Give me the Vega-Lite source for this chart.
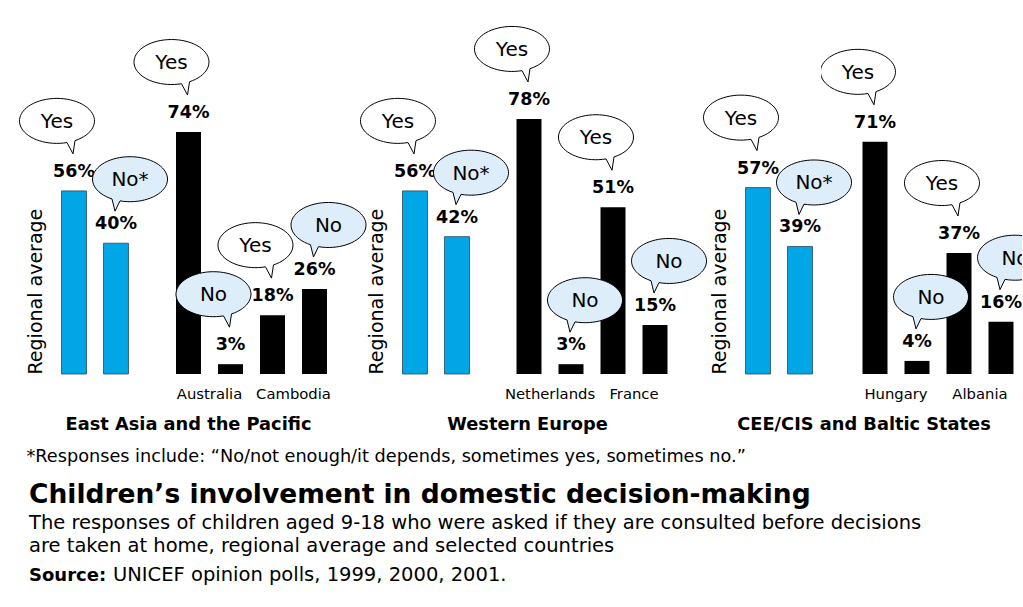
{
  "$schema": "https://vega.github.io/schema/vega-lite/v6.json",
  "background": "white",
  "padding": {"left": 17, "top": 24, "right": 0, "bottom": 5},
  "config": {"view": {"stroke": null}, "font": "DejaVu Sans", "title": {"color": "black"}},
  "datasets": {
    "bars": [
      {"region": "East Asia and the Pacific", "group": "Regional average", "answer": "Yes", "value": 56},
      {"region": "East Asia and the Pacific", "group": "Regional average", "answer": "No*", "value": 40},
      {"region": "East Asia and the Pacific", "group": "Australia", "answer": "Yes", "value": 74},
      {"region": "East Asia and the Pacific", "group": "Australia", "answer": "No", "value": 3},
      {"region": "East Asia and the Pacific", "group": "Cambodia", "answer": "Yes", "value": 18},
      {"region": "East Asia and the Pacific", "group": "Cambodia", "answer": "No", "value": 26},
      {"region": "Western Europe", "group": "Regional average", "answer": "Yes", "value": 56},
      {"region": "Western Europe", "group": "Regional average", "answer": "No*", "value": 42},
      {"region": "Western Europe", "group": "Netherlands", "answer": "Yes", "value": 78},
      {"region": "Western Europe", "group": "Netherlands", "answer": "No", "value": 3},
      {"region": "Western Europe", "group": "France", "answer": "Yes", "value": 51},
      {"region": "Western Europe", "group": "France", "answer": "No", "value": 15},
      {"region": "CEE/CIS and Baltic States", "group": "Regional average", "answer": "Yes", "value": 57},
      {"region": "CEE/CIS and Baltic States", "group": "Regional average", "answer": "No*", "value": 39},
      {"region": "CEE/CIS and Baltic States", "group": "Hungary", "answer": "Yes", "value": 71},
      {"region": "CEE/CIS and Baltic States", "group": "Hungary", "answer": "No", "value": 4},
      {"region": "CEE/CIS and Baltic States", "group": "Albania", "answer": "Yes", "value": 37},
      {"region": "CEE/CIS and Baltic States", "group": "Albania", "answer": "No", "value": 16}
    ]
  },
  "columns": 1,
  "align": "none",
  "spacing": 15,
  "concat": [
    {
      "bounds": "flush",
      "spacing": 0,
      "title": {"text": "*Responses include: “No/not enough/it depends, sometimes yes, sometimes no.”", "orient": "bottom", "anchor": "start", "fontSize": 17.7, "fontWeight": "normal", "font": "DejaVu Sans", "offset": 15, "dx": 9},
      "hconcat": [
        {
          "width": 84, "height": 327,
          "data": {"name": "bars"},
          "transform": [{"filter": "datum.region === 'East Asia and the Pacific' && datum.group === 'Regional average'"}, {"calculate": "datum.value + '%'", "as": "label"}],
          "encoding": {
            "x": {"field": "answer", "type": "nominal", "scale": {"domain": ["Yes", "No*"], "paddingInner": 0.405, "paddingOuter": 0.2025}, "axis": null},
            "y": {"field": "value", "type": "quantitative", "scale": {"domain": [0, 100]}, "axis": {"title": "Regional average", "labels": false, "ticks": false, "domain": false, "grid": false, "titleFontSize": 19, "titleFontWeight": "normal", "titleColor": "black", "titlePadding": 8, "titleAnchor": "start"}}
          },
          "layer": [
            {"mark": {"type": "bar", "color": "#00a6e6", "stroke": "#2a4a5e", "strokeWidth": 0.8}},
            {"mark": {"type": "text", "baseline": "alphabetic", "dy": -14, "fontWeight": "bold", "fontSize": 17.5, "color": "black"}, "encoding": {"text": {"field": "label"}}},
            {"transform": [{"filter": "datum.answer === 'Yes' || datum.group === 'Australia'"}], "mark": {"type": "point", "shape": "M1,-50.26L-1,-37L-7,-48.31A37.5,22.5 0 1 1 1,-50.26Z", "size": 4, "filled": true, "opacity": 1, "stroke": "black", "strokeWidth": 1}, "encoding": {"fill": {"field": "answer", "type": "nominal", "scale": {"domain": ["Yes", "No", "No*"], "range": ["white", "#ddeefa", "#ddeefa"]}, "legend": null}}},
            {"transform": [{"filter": "!(datum.answer === 'Yes' || datum.group === 'Australia')"}], "mark": {"type": "point", "shape": "M4,-42.31L-1,-32L-4,-44.26A37.5,22.5 0 1 1 4,-42.31Z", "size": 4, "filled": true, "opacity": 1, "stroke": "black", "strokeWidth": 1}, "encoding": {"fill": {"field": "answer", "type": "nominal", "scale": {"domain": ["Yes", "No", "No*"], "range": ["white", "#ddeefa", "#ddeefa"]}, "legend": null}}},
            {"transform": [{"filter": "datum.answer === 'Yes' || datum.group === 'Australia'"}], "mark": {"type": "text", "dx": -17, "dy": -69, "baseline": "middle", "fontSize": 20, "color": "black"}, "encoding": {"text": {"field": "answer"}}},
            {"transform": [{"filter": "!(datum.answer === 'Yes' || datum.group === 'Australia')"}], "mark": {"type": "text", "dx": 14, "dy": -63, "baseline": "middle", "fontSize": 20, "color": "black"}, "encoding": {"text": {"field": "answer"}}}
          ]
        },
        {
          "width": 257, "height": 327,
          "data": {"name": "bars"},
          "transform": [{"filter": "datum.region === 'East Asia and the Pacific' && datum.group !== 'Regional average'"}, {"calculate": "datum.value + '%'", "as": "label"}],
          "encoding": {
            "x": {"field": "group", "type": "nominal", "sort": null, "scale": {"paddingInner": 0, "paddingOuter": 0.5298, "align": 0.3427}, "axis": {"title": "East Asia and the Pacific", "titleX": 51, "titleY": 55, "titleBaseline": "alphabetic", "titleAlign": "center", "titleFontSize": 17.8, "titleFontWeight": "bold", "titleColor": "black", "titleFont": "DejaVu Sans", "ticks": false, "domain": false, "labelAngle": 0, "labelFontSize": 14.8, "labelPadding": 24, "labelBaseline": "alphabetic", "labelColor": "black", "labelFont": "DejaVu Sans"}},
            "xOffset": {"field": "answer", "type": "nominal", "scale": {"domain": ["Yes", "No"], "paddingInner": 0.405, "paddingOuter": 0.2025}},
            "y": {"field": "value", "type": "quantitative", "scale": {"domain": [0, 100]}, "axis": null}
          },
          "layer": [
            {"mark": {"type": "bar", "color": "black"}},
            {"mark": {"type": "text", "baseline": "alphabetic", "dy": -14, "fontWeight": "bold", "fontSize": 17.5, "color": "black"}, "encoding": {"text": {"field": "label"}}},
            {"transform": [{"filter": "datum.answer === 'Yes' || datum.group === 'Australia'"}], "mark": {"type": "point", "shape": "M1,-50.26L-1,-37L-7,-48.31A37.5,22.5 0 1 1 1,-50.26Z", "size": 4, "filled": true, "opacity": 1, "stroke": "black", "strokeWidth": 1}, "encoding": {"fill": {"field": "answer", "type": "nominal", "scale": {"domain": ["Yes", "No", "No*"], "range": ["white", "#ddeefa", "#ddeefa"]}, "legend": null}}},
            {"transform": [{"filter": "!(datum.answer === 'Yes' || datum.group === 'Australia')"}], "mark": {"type": "point", "shape": "M4,-42.31L-1,-32L-4,-44.26A37.5,22.5 0 1 1 4,-42.31Z", "size": 4, "filled": true, "opacity": 1, "stroke": "black", "strokeWidth": 1}, "encoding": {"fill": {"field": "answer", "type": "nominal", "scale": {"domain": ["Yes", "No", "No*"], "range": ["white", "#ddeefa", "#ddeefa"]}, "legend": null}}},
            {"transform": [{"filter": "datum.answer === 'Yes' || datum.group === 'Australia'"}], "mark": {"type": "text", "dx": -17, "dy": -69, "baseline": "middle", "fontSize": 20, "color": "black"}, "encoding": {"text": {"field": "answer"}}},
            {"transform": [{"filter": "!(datum.answer === 'Yes' || datum.group === 'Australia')"}], "mark": {"type": "text", "dx": 14, "dy": -63, "baseline": "middle", "fontSize": 20, "color": "black"}, "encoding": {"text": {"field": "answer"}}}
          ]
        },
        {
          "width": 84, "height": 327,
          "data": {"name": "bars"},
          "transform": [{"filter": "datum.region === 'Western Europe' && datum.group === 'Regional average'"}, {"calculate": "datum.value + '%'", "as": "label"}],
          "encoding": {
            "x": {"field": "answer", "type": "nominal", "scale": {"domain": ["Yes", "No*"], "paddingInner": 0.405, "paddingOuter": 0.2025}, "axis": null},
            "y": {"field": "value", "type": "quantitative", "scale": {"domain": [0, 100]}, "axis": {"title": "Regional average", "labels": false, "ticks": false, "domain": false, "grid": false, "titleFontSize": 19, "titleFontWeight": "normal", "titleColor": "black", "titlePadding": 8, "titleAnchor": "start"}}
          },
          "layer": [
            {"mark": {"type": "bar", "color": "#00a6e6", "stroke": "#2a4a5e", "strokeWidth": 0.8}},
            {"mark": {"type": "text", "baseline": "alphabetic", "dy": -14, "fontWeight": "bold", "fontSize": 17.5, "color": "black"}, "encoding": {"text": {"field": "label"}}},
            {"transform": [{"filter": "datum.answer === 'Yes' || datum.group === 'Australia'"}], "mark": {"type": "point", "shape": "M1,-50.26L-1,-37L-7,-48.31A37.5,22.5 0 1 1 1,-50.26Z", "size": 4, "filled": true, "opacity": 1, "stroke": "black", "strokeWidth": 1}, "encoding": {"fill": {"field": "answer", "type": "nominal", "scale": {"domain": ["Yes", "No", "No*"], "range": ["white", "#ddeefa", "#ddeefa"]}, "legend": null}}},
            {"transform": [{"filter": "!(datum.answer === 'Yes' || datum.group === 'Australia')"}], "mark": {"type": "point", "shape": "M4,-42.31L-1,-32L-4,-44.26A37.5,22.5 0 1 1 4,-42.31Z", "size": 4, "filled": true, "opacity": 1, "stroke": "black", "strokeWidth": 1}, "encoding": {"fill": {"field": "answer", "type": "nominal", "scale": {"domain": ["Yes", "No", "No*"], "range": ["white", "#ddeefa", "#ddeefa"]}, "legend": null}}},
            {"transform": [{"filter": "datum.answer === 'Yes' || datum.group === 'Australia'"}], "mark": {"type": "text", "dx": -17, "dy": -69, "baseline": "middle", "fontSize": 20, "color": "black"}, "encoding": {"text": {"field": "answer"}}},
            {"transform": [{"filter": "!(datum.answer === 'Yes' || datum.group === 'Australia')"}], "mark": {"type": "text", "dx": 14, "dy": -63, "baseline": "middle", "fontSize": 20, "color": "black"}, "encoding": {"text": {"field": "answer"}}}
          ]
        },
        {
          "width": 259, "height": 327,
          "data": {"name": "bars"},
          "transform": [{"filter": "datum.region === 'Western Europe' && datum.group !== 'Regional average'"}, {"calculate": "datum.value + '%'", "as": "label"}],
          "encoding": {
            "x": {"field": "group", "type": "nominal", "sort": null, "scale": {"paddingInner": 0, "paddingOuter": 0.5417, "align": 0.3297}, "axis": {"title": "Western Europe", "titleX": 49, "titleY": 55, "titleBaseline": "alphabetic", "titleAlign": "center", "titleFontSize": 17.8, "titleFontWeight": "bold", "titleColor": "black", "titleFont": "DejaVu Sans", "ticks": false, "domain": false, "labelAngle": 0, "labelFontSize": 14.8, "labelPadding": 24, "labelBaseline": "alphabetic", "labelColor": "black", "labelFont": "DejaVu Sans"}},
            "xOffset": {"field": "answer", "type": "nominal", "scale": {"domain": ["Yes", "No"], "paddingInner": 0.405, "paddingOuter": 0.2025}},
            "y": {"field": "value", "type": "quantitative", "scale": {"domain": [0, 100]}, "axis": null}
          },
          "layer": [
            {"mark": {"type": "bar", "color": "black"}},
            {"mark": {"type": "text", "baseline": "alphabetic", "dy": -14, "fontWeight": "bold", "fontSize": 17.5, "color": "black"}, "encoding": {"text": {"field": "label"}}},
            {"transform": [{"filter": "datum.answer === 'Yes' || datum.group === 'Australia'"}], "mark": {"type": "point", "shape": "M1,-50.26L-1,-37L-7,-48.31A37.5,22.5 0 1 1 1,-50.26Z", "size": 4, "filled": true, "opacity": 1, "stroke": "black", "strokeWidth": 1}, "encoding": {"fill": {"field": "answer", "type": "nominal", "scale": {"domain": ["Yes", "No", "No*"], "range": ["white", "#ddeefa", "#ddeefa"]}, "legend": null}}},
            {"transform": [{"filter": "!(datum.answer === 'Yes' || datum.group === 'Australia')"}], "mark": {"type": "point", "shape": "M4,-42.31L-1,-32L-4,-44.26A37.5,22.5 0 1 1 4,-42.31Z", "size": 4, "filled": true, "opacity": 1, "stroke": "black", "strokeWidth": 1}, "encoding": {"fill": {"field": "answer", "type": "nominal", "scale": {"domain": ["Yes", "No", "No*"], "range": ["white", "#ddeefa", "#ddeefa"]}, "legend": null}}},
            {"transform": [{"filter": "datum.answer === 'Yes' || datum.group === 'Australia'"}], "mark": {"type": "text", "dx": -17, "dy": -69, "baseline": "middle", "fontSize": 20, "color": "black"}, "encoding": {"text": {"field": "answer"}}},
            {"transform": [{"filter": "!(datum.answer === 'Yes' || datum.group === 'Australia')"}], "mark": {"type": "text", "dx": 14, "dy": -63, "baseline": "middle", "fontSize": 20, "color": "black"}, "encoding": {"text": {"field": "answer"}}}
          ]
        },
        {
          "width": 84, "height": 327,
          "data": {"name": "bars"},
          "transform": [{"filter": "datum.region === 'CEE/CIS and Baltic States' && datum.group === 'Regional average'"}, {"calculate": "datum.value + '%'", "as": "label"}],
          "encoding": {
            "x": {"field": "answer", "type": "nominal", "scale": {"domain": ["Yes", "No*"], "paddingInner": 0.405, "paddingOuter": 0.2025}, "axis": null},
            "y": {"field": "value", "type": "quantitative", "scale": {"domain": [0, 100]}, "axis": {"title": "Regional average", "labels": false, "ticks": false, "domain": false, "grid": false, "titleFontSize": 19, "titleFontWeight": "normal", "titleColor": "black", "titlePadding": 8, "titleAnchor": "start"}}
          },
          "layer": [
            {"mark": {"type": "bar", "color": "#00a6e6", "stroke": "#2a4a5e", "strokeWidth": 0.8}},
            {"mark": {"type": "text", "baseline": "alphabetic", "dy": -14, "fontWeight": "bold", "fontSize": 17.5, "color": "black"}, "encoding": {"text": {"field": "label"}}},
            {"transform": [{"filter": "datum.answer === 'Yes' || datum.group === 'Australia'"}], "mark": {"type": "point", "shape": "M1,-50.26L-1,-37L-7,-48.31A37.5,22.5 0 1 1 1,-50.26Z", "size": 4, "filled": true, "opacity": 1, "stroke": "black", "strokeWidth": 1}, "encoding": {"fill": {"field": "answer", "type": "nominal", "scale": {"domain": ["Yes", "No", "No*"], "range": ["white", "#ddeefa", "#ddeefa"]}, "legend": null}}},
            {"transform": [{"filter": "!(datum.answer === 'Yes' || datum.group === 'Australia')"}], "mark": {"type": "point", "shape": "M4,-42.31L-1,-32L-4,-44.26A37.5,22.5 0 1 1 4,-42.31Z", "size": 4, "filled": true, "opacity": 1, "stroke": "black", "strokeWidth": 1}, "encoding": {"fill": {"field": "answer", "type": "nominal", "scale": {"domain": ["Yes", "No", "No*"], "range": ["white", "#ddeefa", "#ddeefa"]}, "legend": null}}},
            {"transform": [{"filter": "datum.answer === 'Yes' || datum.group === 'Australia'"}], "mark": {"type": "text", "dx": -17, "dy": -69, "baseline": "middle", "fontSize": 20, "color": "black"}, "encoding": {"text": {"field": "answer"}}},
            {"transform": [{"filter": "!(datum.answer === 'Yes' || datum.group === 'Australia')"}], "mark": {"type": "text", "dx": 14, "dy": -63, "baseline": "middle", "fontSize": 20, "color": "black"}, "encoding": {"text": {"field": "answer"}}}
          ]
        },
        {
          "width": 201, "height": 327,
          "data": {"name": "bars"},
          "transform": [{"filter": "datum.region === 'CEE/CIS and Baltic States' && datum.group !== 'Regional average'"}, {"calculate": "datum.value + '%'", "as": "label"}],
          "encoding": {
            "x": {"field": "group", "type": "nominal", "sort": null, "scale": {"paddingInner": 0, "paddingOuter": 0.1964, "align": 1}, "axis": {"title": "CEE/CIS and Baltic States", "titleX": 42.5, "titleY": 55, "titleBaseline": "alphabetic", "titleAlign": "center", "titleFontSize": 17.8, "titleFontWeight": "bold", "titleColor": "black", "titleFont": "DejaVu Sans", "ticks": false, "domain": false, "labelAngle": 0, "labelFontSize": 14.8, "labelPadding": 24, "labelBaseline": "alphabetic", "labelColor": "black", "labelFont": "DejaVu Sans"}},
            "xOffset": {"field": "answer", "type": "nominal", "scale": {"domain": ["Yes", "No"], "paddingInner": 0.405, "paddingOuter": 0.2025}},
            "y": {"field": "value", "type": "quantitative", "scale": {"domain": [0, 100]}, "axis": null}
          },
          "layer": [
            {"mark": {"type": "bar", "color": "black"}},
            {"mark": {"type": "text", "baseline": "alphabetic", "dy": -14, "fontWeight": "bold", "fontSize": 17.5, "color": "black"}, "encoding": {"text": {"field": "label"}}},
            {"transform": [{"filter": "datum.answer === 'Yes' || datum.group === 'Australia'"}], "mark": {"type": "point", "clip": true, "shape": "M1,-50.26L-1,-37L-7,-48.31A37.5,22.5 0 1 1 1,-50.26Z", "size": 4, "filled": true, "opacity": 1, "stroke": "black", "strokeWidth": 1}, "encoding": {"fill": {"field": "answer", "type": "nominal", "scale": {"domain": ["Yes", "No", "No*"], "range": ["white", "#ddeefa", "#ddeefa"]}, "legend": null}}},
            {"transform": [{"filter": "!(datum.answer === 'Yes' || datum.group === 'Australia')"}], "mark": {"type": "point", "clip": true, "shape": "M4,-42.31L-1,-32L-4,-44.26A37.5,22.5 0 1 1 4,-42.31Z", "size": 4, "filled": true, "opacity": 1, "stroke": "black", "strokeWidth": 1}, "encoding": {"fill": {"field": "answer", "type": "nominal", "scale": {"domain": ["Yes", "No", "No*"], "range": ["white", "#ddeefa", "#ddeefa"]}, "legend": null}}},
            {"transform": [{"filter": "datum.answer === 'Yes' || datum.group === 'Australia'"}], "mark": {"type": "text", "clip": true, "dx": -17, "dy": -69, "baseline": "middle", "fontSize": 20, "color": "black"}, "encoding": {"text": {"field": "answer"}}},
            {"transform": [{"filter": "!(datum.answer === 'Yes' || datum.group === 'Australia')"}], "mark": {"type": "text", "clip": true, "dx": 14, "dy": -63, "baseline": "middle", "fontSize": 20, "color": "black"}, "encoding": {"text": {"field": "answer"}}}
          ]
        }
      ]
    },
    {
      "width": 84, "height": 20,
      "title": {"text": "Children’s involvement in domestic decision-making", "subtitle": ["The responses of children aged 9-18 who were asked if they are consulted before decisions", "are taken at home, regional average and selected countries"], "anchor": "start", "orient": "top", "fontSize": 26.5, "fontWeight": "bold", "font": "DejaVu Sans", "subtitleFont": "DejaVu Sans", "subtitleFontSize": 19.5, "subtitleColor": "black", "subtitleLineHeight": 23.4, "subtitlePadding": 6, "offset": 9},
      "data": {"values": [{"part": "Source:"}, {"part": "UNICEF opinion polls, 1999, 2000, 2001."}]},
      "encoding": {
        "x": {"field": "part", "type": "nominal", "sort": null, "scale": {"type": "point", "padding": 0}, "axis": null},
        "text": {"field": "part"}
      },
      "layer": [
        {"transform": [{"filter": "datum.part === 'Source:'"}], "mark": {"type": "text", "align": "left", "baseline": "alphabetic", "dx": -24, "fontSize": 18, "fontWeight": "bold", "color": "black"}},
        {"transform": [{"filter": "datum.part !== 'Source:'"}], "mark": {"type": "text", "align": "left", "baseline": "alphabetic", "dx": -24, "fontSize": 19.5, "color": "black"}}
      ]
    }
  ]
}
